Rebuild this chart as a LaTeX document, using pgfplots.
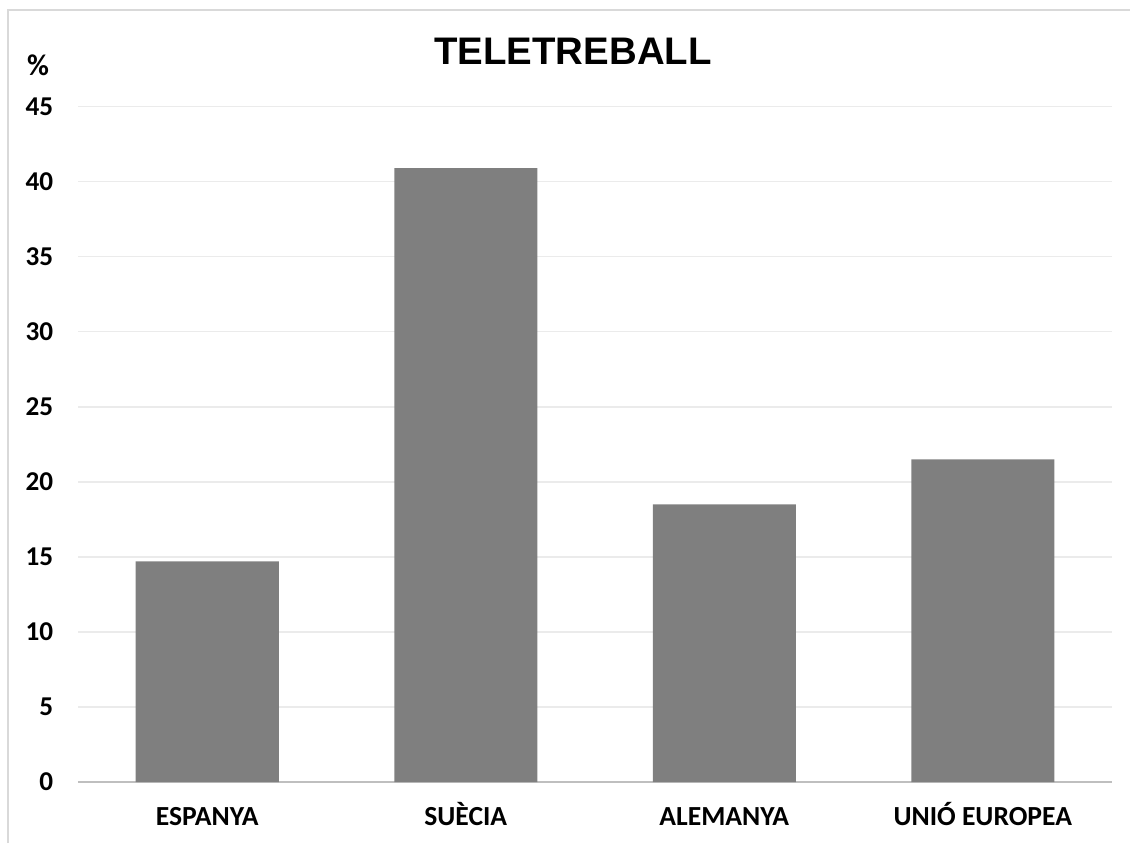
\documentclass[border=0pt]{standalone}
\usepackage{pgfplots}
\pgfplotsset{compat=1.18}
\usepackage{fontspec}
\setmainfont{Carlito}
\newfontfamily\arialfont{Liberation Sans}
\definecolor{bargray}{HTML}{7F7F7F}
\definecolor{gridgray}{HTML}{EBEBEB}
\definecolor{axisgray}{HTML}{BFBFBF}
\definecolor{framegray}{HTML}{D9D9D9}
\begin{document}
\begin{tikzpicture}
\useasboundingbox (0,0) rectangle (565pt,421.5pt);
\draw[framegray, line width=1pt] (3.75pt,0) -- (3.75pt,416.7pt) -- (565pt,416.7pt);
\begin{axis}[
  at={(39pt,30.5pt)}, anchor=south west,
  scale only axis, width=517pt, height=337.75pt,
  xmin=-0.5, xmax=3.5, ymin=0, ymax=45,
  ytick={0,5,10,15,20,25,30,35,40,45},
  yticklabels={0,5,10,15,20,25,30,35,40,45},
  xtick={0,1,2,3},
  xticklabels={ESPANYA,SUÈCIA,ALEMANYA,UNIÓ EUROPEA},
  ymajorgrids, grid style={gridgray, line width=0.8pt},
  axis x line*=bottom, axis y line*=left,
  x axis line style={axisgray, line width=1.3pt},
  y axis line style={draw=none},
  major tick length=0pt, tick style={draw=none},
  xticklabel style={font=\fontsize{13.8}{16}\selectfont\bfseries, anchor=base, inner sep=0pt, yshift=-21.7pt},
  yticklabel style={font=\fontsize{13.6}{16}\selectfont\bfseries, anchor=east, inner sep=0pt, xshift=-12.2pt},
  ybar, bar width=71.5pt,
]
\addplot[fill=bargray, draw=none] coordinates {(0,14.7) (1,40.9) (2,18.5) (3,21.5)};
\end{axis}
\node[font=\arialfont\bfseries\fontsize{19.2}{23}\selectfont] at (286.5pt,396pt) {TELETREBALL};
\node[font=\fontsize{15}{18}\selectfont\bfseries] at (19pt,389pt) {\%};
\end{tikzpicture}
\end{document}
